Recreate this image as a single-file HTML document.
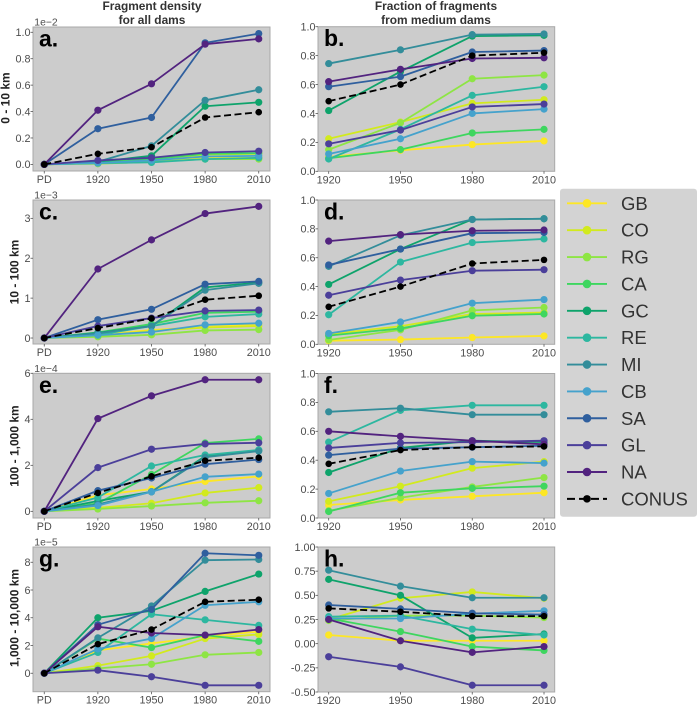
<!DOCTYPE html>
<html lang="en">
<head>
<meta charset="utf-8">
<title>Fragment density and fraction of fragments from medium dams</title>
<style>
html,body{margin:0;padding:0;background:#fff;}
body{width:698px;height:704px;overflow:hidden;font-family:"Liberation Sans",sans-serif;}
svg{display:block;filter:blur(0.35px);}
text{font-family:"Liberation Sans",sans-serif;}
</style>
</head>
<body>
<svg id="chart" width="698" height="704" viewBox="0 0 698 704" xmlns="http://www.w3.org/2000/svg">
  <text x="152" y="10" text-anchor="middle" font-size="11.9" font-weight="700" fill="#333">Fragment density</text>
  <text x="152" y="24" text-anchor="middle" font-size="11.9" font-weight="700" fill="#333">for all dams</text>
  <text x="436" y="10" text-anchor="middle" font-size="11.9" font-weight="700" fill="#333">Fraction of fragments</text>
  <text x="436" y="24" text-anchor="middle" font-size="11.9" font-weight="700" fill="#333">from medium dams</text>
  <g id="panels"></g>
  <g id="legend"></g>
</svg>
<script>
const seriesNames = ['GB','CO','RG','CA','GC','RE','MI','CB','SA','GL','NA','CONUS'];
const seriesColors = ['#fde725','#d2ea1e','#8ee544','#3ed65f','#0ea36b','#2db7a0','#338d9a','#45a2cc','#2f5f9e','#4b3f9a','#52237f','#000000'];
const densityCategories = ['PD','1920','1950','1980','2010'];
const fractionCategories = ['1920','1950','1980','2010'];

const ticksA = ['0.0','0.2','0.4','0.6','0.8','1.0'];
const ticksB = ['0.0','0.2','0.4','0.6','0.8','1.0'];
const ticksC = ['0','1','2','3'];
const ticksD = ['0.0','0.2','0.4','0.6','0.8','1.0'];
const ticksE = ['0','2','4','6'];
const ticksF = ['0.0','0.2','0.4','0.6','0.8','1.0'];
const ticksG = ['0','2','4','6','8'];
const ticksH = ['-0.50','-0.25','0.00','0.25','0.50','0.75','1.00'];

/* rows follow seriesNames order */
const valuesA = [
  [0,.01,.02,.05,.05],
  [0,.01,.03,.075,.08],
  [0,.005,.02,.04,.04],
  [0,.02,.04,.08,.085],
  [0,.02,.065,.44,.47],
  [0,.01,.015,.04,.05],
  [0,.02,.14,.485,.565],
  [0,.01,.03,.06,.065],
  [0,.27,.355,.92,.99],
  [0,.03,.05,.09,.10],
  [0,.41,.61,.91,.95],
  [0,.08,.13,.355,.395]
];
const valuesB = [
  [.10,.145,.185,.21],
  [.225,.34,.47,.495],
  [.15,.335,.64,.665],
  [.09,.15,.265,.29],
  [.42,.69,.935,.94],
  [.085,.29,.525,.585],
  [.745,.84,.945,.95],
  [.12,.225,.40,.43],
  [.585,.655,.825,.835],
  [.19,.285,.445,.465],
  [.62,.705,.78,.785],
  [.485,.60,.80,.82]
];
const valuesC = [
  [0,.08,.20,.28,.34],
  [0,.05,.18,.26,.30],
  [0,.03,.08,.19,.21],
  [0,.14,.35,.63,.66],
  [0,.13,.30,1.27,1.39],
  [0,.08,.30,.53,.60],
  [0,.12,.30,1.20,1.37],
  [0,.07,.15,.33,.37],
  [0,.46,.72,1.35,1.42],
  [0,.30,.50,.68,.70],
  [0,1.73,2.46,3.12,3.30],
  [0,.25,.49,.96,1.06]
];
const valuesD = [
  [.025,.033,.047,.058],
  [.07,.125,.21,.22],
  [.03,.10,.235,.255],
  [.06,.11,.198,.21],
  [.415,.66,.865,.87],
  [.205,.57,.705,.73],
  [.54,.755,.865,.87],
  [.075,.155,.285,.31],
  [.55,.66,.77,.775],
  [.34,.445,.51,.517],
  [.715,.76,.787,.792],
  [.26,.40,.56,.585]
];
const valuesE = [
  [0,.7,.97,1.3,1.52],
  [0,.15,.35,.8,1.03],
  [0,.1,.23,.37,.46],
  [0,.35,1.6,2.97,3.15],
  [0,.45,.85,2.4,2.65],
  [0,.6,1.97,2.45,2.67],
  [0,.3,.85,2.35,2.62],
  [0,.25,.85,1.5,1.62],
  [0,.9,1.45,2.05,2.25],
  [0,1.9,2.7,2.93,2.98],
  [0,4.03,5.02,5.72,5.72],
  [0,.8,1.52,2.2,2.33]
];
const valuesF = [
  [.09,.125,.15,.175],
  [.115,.22,.345,.39],
  [.05,.14,.215,.28],
  [.045,.175,.205,.22],
  [.315,.485,.535,.525],
  [.525,.745,.78,.78],
  [.735,.76,.715,.715],
  [.17,.325,.39,.38],
  [.435,.48,.49,.50],
  [.485,.52,.525,.535],
  [.60,.565,.535,.51],
  [.375,.47,.49,.495]
];
const valuesG = [
  [0,1.65,2.15,2.65,3.0],
  [0,.55,1.25,2.5,2.8],
  [0,.35,.65,1.33,1.5],
  [0,2.5,1.85,2.75,2.3],
  [0,4.0,4.5,5.9,7.15],
  [0,1.5,4.25,3.85,3.45],
  [0,2.55,4.85,8.15,8.2],
  [0,1.75,2.5,4.9,5.15],
  [0,3.5,4.6,8.65,8.5],
  [0,.22,-.25,-.87,-.87],
  [0,3.35,2.9,2.75,3.15],
  [0,2.1,3.15,5.15,5.3]
];
const valuesH = [
  [.09,.03,.03,.03],
  [.25,.47,.535,.47],
  [.24,.29,.29,.27],
  [.26,.125,-.03,-.07],
  [.665,.50,.06,.10],
  [.28,.29,.15,.09],
  [.76,.595,.475,.475],
  [.26,.26,.31,.34],
  [.40,.36,.315,.30],
  [-.135,-.24,-.43,-.43],
  [.25,.03,-.09,-.03],
  [.365,.33,.285,.285]
];

const NS = 'http://www.w3.org/2000/svg';
function make(parent, tag, attrs, text) {
  const el = document.createElementNS(NS, tag);
  for (const k in attrs) el.setAttribute(k, attrs[k]);
  if (text !== undefined) el.textContent = text;
  parent.appendChild(el);
  return el;
}

const panelLayouts = [
  {id:'a',values:valuesA,cats:densityCategories,ticks:ticksA,box:[33,27,270,171],dom:[-0.05,1.04],pad:.21,sci:'1e\u22122',yTitle:'0 - 10 km',yTitleX:5.3,yTitleY:98},
  {id:'b',values:valuesB,cats:fractionCategories,ticks:ticksB,box:[318,26.7,554.7,171.3],dom:[0,1],pad:.149},
  {id:'c',values:valuesC,cats:densityCategories,ticks:ticksC,box:[33,200,270,344],dom:[-0.15,3.46],pad:.21,sci:'1e\u22123',yTitle:'10 - 100 km',yTitleX:14,yTitleY:272},
  {id:'d',values:valuesD,cats:fractionCategories,ticks:ticksD,box:[318,200,554.7,344.3],dom:[0,1],pad:.149},
  {id:'e',values:valuesE,cats:densityCategories,ticks:ticksE,box:[33,373.3,270,518],dom:[-0.29,6.0],pad:.21,sci:'1e\u22124',yTitle:'100 - 1,000 km',yTitleX:14,yTitleY:446},
  {id:'f',values:valuesF,cats:fractionCategories,ticks:ticksF,box:[318,373.5,554.7,518],dom:[0,1],pad:.149},
  {id:'g',values:valuesG,cats:densityCategories,ticks:ticksG,box:[33,547,270,691.7],dom:[-1.33,9.1],pad:.21,sci:'1e\u22125',yTitle:'1,000 - 10,000 km',yTitleX:14,yTitleY:618},
  {id:'h',values:valuesH,cats:fractionCategories,ticks:ticksH,box:[318,547,554.7,692],dom:[-0.5,1],pad:.149}
];

function xScale(p, i) {
  const n = p.cats.length - 1 + 2 * p.pad;
  return p.box[0] + (i + p.pad) * (p.box[2] - p.box[0]) / n;
}
function yScale(p, v) {
  return p.box[3] - (v - p.dom[0]) * (p.box[3] - p.box[1]) / (p.dom[1] - p.dom[0]);
}

const panelsRoot = document.getElementById('panels');
panelLayouts.forEach(function (p) {
  const g = make(panelsRoot, 'g', {});
  
  

  const bg = make(g, 'rect', {x:p.box[0], y:p.box[1], width:p.box[2]-p.box[0], height:p.box[3]-p.box[1], fill:'#cccccc', stroke:'#a9a9a9', 'stroke-width':1});
  
  

  p.ticks.forEach(function (label) {
    const y = yScale(p, Number(label));
    const tick = make(g, 'line', {x1:p.box[0]-2.5, x2:p.box[0], y1:y, y2:y, stroke:'#555', 'stroke-width':.8});
    
    
    const t = make(g, 'text', {x:p.box[0]-2.5, y:y+3.8, 'text-anchor':'end', 'font-size':10.8, fill:'#4d4d4d'}, label);
    
    
  });

  p.cats.forEach(function (label, i) {
    const x = xScale(p, i);
    const tick = make(g, 'line', {x1:x, x2:x, y1:p.box[3], y2:p.box[3]+2.5, stroke:'#555', 'stroke-width':.8});
    
    
    const t = make(g, 'text', {x:x, y:p.box[3]+12, 'text-anchor':'middle', 'font-size':10.8, fill:'#4d4d4d'}, label);
    
    
  });

  if (p.sci) {
    const s = make(g, 'text', {x:34.3, y:p.box[1]-1.5, 'font-size':10.4, fill:'#4d4d4d'}, p.sci);
    
    
    const yt = make(g, 'text', {x:0, y:0, transform:'translate(' + (p.yTitleX+4.3) + ' ' + p.yTitleY + ') rotate(-90)', 'text-anchor':'middle', 'font-size':12, 'font-weight':700, fill:'#222'}, p.yTitle);
    
    
  }

  p.values.forEach(function (row, si) {
    const isConus = seriesNames[si] === 'CONUS';
    const sg = make(g, 'g', {});
    
    
    const pts = row.map(function (v, i) { return xScale(p, i).toFixed(2) + ',' + yScale(p, v).toFixed(2); }).join(' ');
    const attrs = {points:pts, fill:'none', stroke:seriesColors[si], 'stroke-width':1.8, 'stroke-linejoin':'round'};
    if (isConus) attrs['stroke-dasharray'] = '7 3.5';
    const line = make(sg, 'polyline', attrs);
    
    
    row.forEach(function (v, i) {
      const c = make(sg, 'circle', {cx:xScale(p, i), cy:yScale(p, v), r:isConus ? 3.3 : 3.6, fill:seriesColors[si]});
      
      
    });
  });

  const lab = make(g, 'text', {x:p.box[0]+6, y:p.box[1]+19.5, 'font-size':23, 'font-weight':700, fill:'#000'}, p.id + '.');
  
  
});

const legendRoot = document.getElementById('legend');
const legendBg = make(legendRoot, 'rect', {x:560, y:188.7, width:137, height:328, rx:3, fill:'#d3d3d3'});


seriesNames.forEach(function (name, i) {
  const y = 203.3 + i * 26.87;
  const isConus = name === 'CONUS';
  const entry = make(legendRoot, 'g', {});
  
  
  const attrs = {x1:567, x2:607, y1:y, y2:y, stroke:seriesColors[i], 'stroke-width':1.9};
  if (isConus) attrs['stroke-dasharray'] = '8 4';
  const line = make(entry, 'line', attrs);
  
  
  const dot = make(entry, 'circle', {cx:587, cy:y, r:isConus ? 3.8 : 4.3, fill:seriesColors[i]});
  
  
  const label = make(entry, 'text', {x:621, y:y+6.5, 'font-size':18.5, fill:'#333'}, name);
  
  
});
</script>
</body>
</html>
